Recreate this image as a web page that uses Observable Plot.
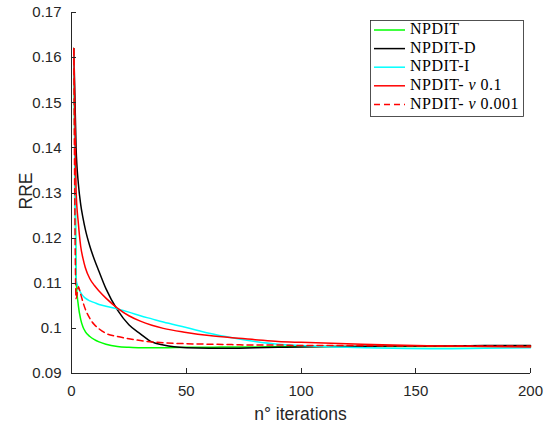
<!DOCTYPE html>
<html>
<head>
<meta charset="utf-8">
<script src="https://cdn.jsdelivr.net/npm/d3@7"></script>
<script src="https://cdn.jsdelivr.net/npm/@observablehq/plot@0.6"></script>
<style>
  html, body { margin: 0; padding: 0; background: #fff; }
</style>
</head>
<body>
<div id="chart"></div>
<script>
const iterations = [1,2,3,4,5,6,8,10,12,15,20,25,30,35,40,50,60,70,80,90,100,120,140,160,180,200];
const npdit   = [.162,.1110,.1050,.1020,.1003,.0993,.0982,.0975,.0970,.0965,.0960,.0958,.0957,.0957,.0957,.0958,.0958,.0959,.0959,.0960,.0960,.0960,.0960,.0960,.0960,.0960];
const npditD  = [.162,.1400,.1320,.1275,.1245,.1220,.1182,.1152,.1126,.1088,.1041,.1008,.0988,.0970,.0963,.0957,.0956,.0956,.0957,.0958,.0959,.0960,.0961,.0961,.0962,.0962];
const npditI  = [.162,.1108,.1090,.1079,.1072,.1067,.1061,.1057,.1053,.1049,.1043,.1036,.1028,.1021,.1014,.1002,.0989,.0979,.0971,.0965,.0962,.0958,.0956,.0955,.0956,.0957];
const npditNu1   = [.162,.1306,.1232,.1182,.1155,.1135,.1110,.1095,.1083,.1067,.1045,.1028,.1016,.1007,.1000,.0991,.0984,.0979,.0975,.0971,.0969,.0966,.0963,.0961,.0960,.0959];
const npditNu001 = [.162,.1066,.1092,.1076,.1058,.1043,.1022,.1008,.0999,.0989,.0982,.0977,.0973,.0970,.0968,.0966,.0965,.0964,.0963,.0963,.0962,.0962,.0961,.0961,.0961,.0961];

const seriesNames = ["NPDIT", "NPDIT-D", "NPDIT-I", "NPDIT- ν 0.1", "NPDIT- ν 0.001"];
const seriesColors = ["#00ff00", "#000000", "#00ffff", "#ff0000", "#ff0000"];
const seriesDash = [null, null, null, null, "6,4"];
const seriesValues = [npdit, npditD, npditI, npditNu1, npditNu001];

const xTicks = [0, 50, 100, 150, 200];
const yTicks = [0.09, 0.10, 0.11, 0.12, 0.13, 0.14, 0.15, 0.16, 0.17];
const xDomain = [0, 200];
const yDomain = [0.09, 0.17];

const axisColor = "#262626";

const lineMarks = seriesValues.map((vals, i) =>
  Plot.line(iterations.map((x, j) => ({x, y: vals[j]})), {
    x: "x", y: "y",
    stroke: seriesColors[i],
    strokeWidth: 1.5,
    strokeDasharray: seriesDash[i] || undefined,
    curve: "monotone-x"
  })
);

const chart = Plot.plot({
  width: 550,
  height: 424,
  marginLeft: 71,
  marginRight: 20,
  marginTop: 12,
  marginBottom: 51,
  style: { fontFamily: "Liberation Sans, Arial, sans-serif", background: "#fff", color: axisColor },
  x: { domain: xDomain },
  y: { domain: yDomain },
  marks: [
    ...lineMarks,
    Plot.ruleX([xDomain[0]], { stroke: axisColor, strokeWidth: 1 }),
    Plot.ruleY([yDomain[0]], { stroke: axisColor, strokeWidth: 1 }),
    Plot.axisX({ ticks: xTicks, tickSize: 0, tickPadding: 12, fontSize: 15, label: null, color: axisColor, tickFormat: d => String(d) }),
    Plot.axisY({ ticks: yTicks, tickSize: 0, tickPadding: 10, fontSize: 15, label: null, color: axisColor, tickFormat: d => String(+d.toFixed(2)) })
  ]
});

document.getElementById("chart").appendChild(chart);

const svg = d3.select(chart);
const sx = chart.scale("x"), sy = chart.scale("y");
const x0 = sx.apply(xDomain[0]), y0 = sy.apply(yDomain[0]);
const tg = svg.append("g").attr("stroke", axisColor).attr("stroke-width", 1);
xTicks.forEach(t => {
  const px = Math.round(sx.apply(t)) + 0.5;
  tg.append("line").attr("x1", px).attr("x2", px).attr("y1", y0).attr("y2", y0 - 5);
});
yTicks.forEach(t => {
  const py = Math.round(sy.apply(t)) + 0.5;
  tg.append("line").attr("x1", x0).attr("x2", x0 + 5).attr("y1", py).attr("y2", py);
});

// axis titles
svg.append("text")
  .attr("x", 300.5).attr("y", 415)
  .attr("text-anchor", "middle").attr("dominant-baseline", "middle")
  .attr("font-family", "Liberation Sans, Arial, sans-serif")
  .attr("font-size", 17.5).attr("fill", axisColor)
  .text("n° iterations");
svg.append("text")
  .attr("transform", "translate(27,191) rotate(-90)")
  .attr("text-anchor", "middle").attr("dominant-baseline", "middle")
  .attr("font-family", "Liberation Sans, Arial, sans-serif")
  .attr("font-size", 17.5).attr("fill", axisColor)
  .text("RRE");

// legend
const lg = svg.append("g").attr("text-anchor", "start");
lg.append("rect")
  .attr("x", 370.5).attr("y", 20.5).attr("width", 153).attr("height", 96)
  .attr("fill", "#fff").attr("stroke", axisColor).attr("stroke-width", 0.8);
seriesNames.forEach((name, i) => {
  const y = 30 + i * 18.6;
  lg.append("line")
    .attr("x1", 374).attr("x2", 405).attr("y1", y).attr("y2", y)
    .attr("stroke", seriesColors[i]).attr("stroke-width", 1.5)
    .attr("stroke-dasharray", seriesDash[i]);
  const t = lg.append("text")
    .attr("x", 410).attr("y", y + 0.5)
    .attr("text-anchor", "start")
    .attr("dominant-baseline", "middle")
    .attr("font-family", "Liberation Serif, Times New Roman, serif")
    .attr("font-size", 16).attr("letter-spacing", 0.5).attr("fill", "#000");
  const parts = name.split("ν");
  if (parts.length === 2) {
    t.append("tspan").text(parts[0]);
    t.append("tspan").attr("font-style", "italic").text("ν");
    t.append("tspan").text(parts[1]);
  } else {
    t.text(name);
  }
});
</script>
</body>
</html>
